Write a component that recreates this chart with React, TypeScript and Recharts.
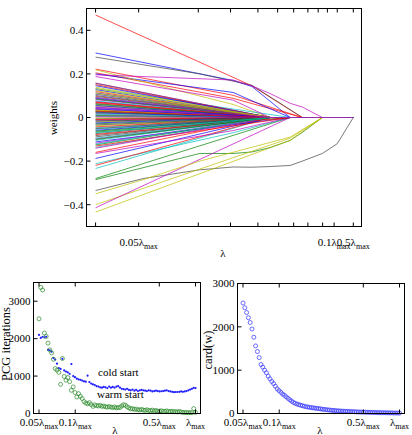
import React from 'react';
import { LineChart, Line, XAxis, YAxis, ScatterChart, Scatter } from 'recharts';

const FONT = '"Liberation Serif", "Times New Roman", serif';
const INK = '#000';
const TICK_LEN = 4;

// MATLAB-style line colour order
const ORDER = ['#0000ff', '#008000', '#ff0000', '#00bfbf', '#bf00bf', '#bfbf00', '#404040'];

// ---------- regularization path (top) ----------
// λ / λmax at the knots of the path
const pathLambda = [0.05, 0.087, 0.168, 0.247, 0.308, 0.38, 0.48, 0.553, 0.698, 0.83, 1.0];

// coefficients that shrink straight to zero: weight at 0.05λmax and the knot where they vanish
const fanStart = [
  0.158, -0.021, 0.064, -0.112, 0.031, 0.097, -0.054, 0.012, 0.139, -0.083,
  0.046, -0.006, 0.119, -0.137, 0.073, -0.038, 0.024, 0.088, -0.067, 0.151,
  0.005, -0.098, 0.057, -0.015, 0.107, -0.126, 0.036, -0.047, 0.082, 0.018,
  -0.074, 0.128, -0.029, 0.068, -0.105, 0.042, -0.002, 0.113, -0.059, 0.027,
  -0.131, 0.093, -0.011, 0.052, -0.089, 0.146, 0.009, -0.043, 0.076, -0.118,
  0.034, 0.101, -0.025, 0.061, -0.078, 0.015, -0.141, 0.123, -0.051, 0.039,
  0.085, -0.009, -0.095, 0.048, 0.133, -0.034, 0.021, -0.063, 0.071, -0.122,
  0.003, 0.109, -0.017, 0.055, -0.101, 0.029, -0.07, 0.091,
];
const fanKnot = [
  5, 5, 5, 6, 5, 5, 5, 4, 5, 5,
  5, 4, 5, 5, 5, 5, 5, 5, 6, 5,
  4, 5, 5, 5, 5, 5, 5, 5, 5, 5,
  5, 5, 5, 5, 5, 5, 5, 5, 5, 4,
  6, 5, 5, 5, 5, 5, 5, 5, 5, 5,
  5, 5, 4, 5, 6, 5, 5, 5, 5, 5,
  5, 5, 5, 5, 5, 5, 5, 5, 5, 5,
  5, 5, 5, 5, 5, 5, 5, 5,
];

const _ = null;
// coefficients with bends of their own (null = no knot there)
const bentPaths: (number | null)[][] = [
  [0.47, _, _, _, 0.145, _, _, 0, 0, 0, 0],
  [0.296, _, _, 0.17, 0.142, _, 0, 0, 0, 0, 0],
  [0.277, _, 0.2, _, 0.148, _, _, 0, 0, 0, 0],
  [0.222, _, _, 0.102, _, _, _, 0, 0, 0, 0],
  [0.205, _, _, 0.088, _, _, _, 0, 0, 0, 0],
  [0.2, _, _, 0.115, _, _, 0, 0, 0, 0, 0],
  [0.219, _, _, 0.06, _, 0, 0, 0, 0, 0, 0],
  [0.157, _, _, _, _, 0, 0, 0, 0, 0, 0],
  [0.133, _, _, _, _, _, 0, 0, 0, 0, 0],
  [0.188, _, _, 0.08, _, 0, 0, 0, 0, 0, 0],
  [-0.335, -0.28, -0.24, -0.227, -0.228, -0.225, -0.22, -0.2, -0.165, -0.12, 0],
  [-0.285, _, -0.165, -0.165, -0.158, -0.138, -0.105, -0.068, 0, 0, 0],
  [-0.28, _, _, _, _, _, 0, 0, 0, 0, 0],
  [-0.434, _, _, _, _, _, -0.105, _, 0, 0, 0],
  [-0.4, _, _, _, _, _, -0.095, _, 0, 0, 0],
  [-0.414, _, _, _, _, _, 0, 0, 0, 0, 0],
  [-0.35, -0.285, -0.2, _, _, _, -0.09, _, 0, 0, 0],
  [-0.234, _, _, _, _, 0, 0, 0, 0, 0, 0],
  [-0.212, _, _, -0.07, _, _, 0, 0, 0, 0, 0],
  [-0.22, _, _, _, _, 0, 0, 0, 0, 0, 0],
  [-0.188, _, _, _, _, 0, 0, 0, 0, 0, 0],
  [-0.165, _, _, -0.06, _, _, 0, 0, 0, 0, 0],
  [-0.16, _, _, _, _, 0, 0, 0, 0, 0, 0],
  [0.196, _, _, 0.172, 0.145, 0.11, 0.065, 0.048, 0, 0, 0],
];
const bentColors = [
  '#ff0000', '#0000ff', '#404040', '#ff0000', '#ff0000', '#0000ff', '#bfbf00', '#008000',
  '#00bfbf', '#bf00bf', '#404040', '#008000', '#008000', '#bfbf00', '#bfbf00', '#bf00bf',
  '#bfbf00', '#00bfbf', '#00bfbf', '#ff0000', '#0000ff', '#bf00bf', '#ff0000', '#bf00bf',
];

const weightTicks = [-0.4, -0.2, 0, 0.2, 0.4];
const pathBottomTicks = [0.05, 0.0825, 0.165, 0.24, 0.33, 0.42, 0.5, 0.59, 0.7, 0.8, 1.0];
const pathTopTicks = [0.05, 0.0825, 0.165, 0.24, 0.33, 0.415, 0.5, 0.59, 0.665, 0.74, 0.83, 1.0];
const pathTickLabels: Record<string, string> = { '0.0825': '0.05', '0.8': '0.1', '1': '0.5' };

// ---------- λ sweep (bottom) ----------
const sweepLambda = Array.from({ length: 88 }, (_v, i) => 0.05 * Math.pow(20, i / 87));

const coldStart = [
  2100, 2020, 2050, 2030, 2050, 1700, 1690, 1650, 1480, 1440,
  1330, 1210, 1190, 1460, 1150, 1120, 1100, 1060, 1320, 1000,
  970, 930, 910, 900, 880, 860, 850, 1010, 840, 800,
  780, 760, 730, 720, 700, 690, 710, 700, 680, 720,
  690, 710, 690, 720, 730, 690, 660, 650, 640, 660,
  630, 620, 640, 610, 630, 600, 620, 630, 620, 610,
  600, 620, 610, 590, 600, 610, 600, 590, 595, 600,
  610, 620, 600, 590, 580, 570, 575, 575, 580, 590,
  580, 590, 600, 620, 640, 660, 685, 680,
];
const warmStart = [
  2530, 3370, 3300, 2150, 2060, 1880, 1700, 1620, 1450, 1200,
  1160, 1100, 780, 1470, 990, 890, 960, 850, 620, 710,
  560, 440, 530, 460, 400, 320, 280, 260, 290, 240,
  190, 230, 210, 200, 220, 190, 200, 180, 170, 185,
  170, 160, 175, 150, 160, 160, 200, 235, 220, 180,
  150, 125, 130, 110, 120, 100, 95, 110, 90, 85,
  100, 80, 75, 90, 70, 80, 65, 60, 75, 55,
  60, 70, 50, 55, 60, 45, 50, 40, 55, 40,
  30, 25, 30, 20, 25, 20, 130, 30,
];
const cardinality = [
  2550, 2440, 2330, 2210, 2100, 1950, 1760, 1560, 1430, 1290,
  1130, 1070, 1000, 940, 860, 800, 740, 690, 630, 570,
  530, 490, 450, 420, 385, 350, 318, 285, 255, 235,
  218, 205, 192, 180, 168, 157, 150, 142, 135, 130,
  124, 118, 112, 108, 100, 95, 90, 85, 80, 76,
  72, 68, 64, 61, 58, 55, 52, 50, 48, 46,
  44, 42, 40, 38, 36, 34, 33, 31, 30, 29,
  28, 26, 25, 24, 23, 21, 20, 19, 18, 17,
  16, 15, 14, 13, 12, 11, 11, 10,
];
const sweepTicks = [0.05, 0.1, 0.5, 1];
const sweepTickLabels: Record<string, string> = { '0.05': '0.05', '0.1': '0.1', '0.5': '0.5', '1': '' };
const countTicks = [0, 1000, 2000, 3000];

// ---------- tables built from the arrays ----------
const fanPaths = fanStart.map((s, i) =>
  pathLambda.map((_l, j) => (j === 0 ? s : j < fanKnot[i] ? null : 0))
);
// bent coefficients first, the fan drawn over them
const allPaths = [...bentPaths, ...fanPaths];
const allColors = [...bentColors, ...fanPaths.map((_p, i) => ORDER[(i + 4) % ORDER.length])];
const pathRows = pathLambda.map((lam, j) => {
  const row: Record<string, number | null> = { lam };
  allPaths.forEach((p, i) => {
    row['w' + i] = p[j];
  });
  return row;
});
const coldRows = sweepLambda.map((lam, i) => ({ lam, v: coldStart[i] }));
const warmRows = sweepLambda.map((lam, i) => ({ lam, v: warmStart[i] }));
const cardRows = sweepLambda.map((lam, i) => ({ lam, v: cardinality[i] }));

const LAMBDA_DOMAIN: [number, number] = [0.045, 1.1];

// ---------- panel layout (page pixels; half-pixel edges keep the 1px box crisp) ----------
type Panel = { left: number; top: number; width: number; height: number; box: [number, number, number, number] };
const Y_AXIS_W = 30;
const TOP_AXIS_H = 5;
const RIGHT_AXIS_W = 5;
const pathPanel: Panel = { left: 0, top: 0, width: 412, height: 262, box: [86.5, 8.5, 361.5, 226.5] };
const pcgPanel: Panel = { left: 0, top: 270, width: 206, height: 165, box: [33.5, 282.5, 200.5, 413.5] };
const cardPanel: Panel = { left: 206, top: 270, width: 206, height: 165, box: [237.5, 283.5, 404.5, 413.5] };

const marginsFor = (p: Panel, yAxisW: number, xAxisH: number) => ({
  left: p.box[0] - p.left - yAxisW,
  top: p.box[1] - p.top - TOP_AXIS_H,
  right: p.left + p.width - p.box[2] - RIGHT_AXIS_W,
  bottom: p.top + p.height - p.box[3] - xAxisH,
});

// ---------- tick renderers (ticks point into the box, MATLAB style) ----------
function LambdaText({ x, y, prefix }: { x: number; y: number; prefix: string }) {
  return (
    <text x={x} y={y} textAnchor="middle" style={{ fontFamily: FONT }} fontSize={11} fill={INK}>
      <tspan>{prefix + 'λ'}</tspan>
      <tspan fontSize={8} dy={3}>max</tspan>
    </text>
  );
}

const FRAME = '#000';
const TICK_STROKE = { stroke: FRAME, strokeWidth: 1 };

const bottomTick = (labels: Record<string, string>, textDy: number) => (p: any) => {
  const lab = labels[String(p.payload.value)];
  return (
    <g>
      <line x1={p.x} y1={p.y} x2={p.x} y2={p.y - TICK_LEN} {...TICK_STROKE} />
      {lab !== undefined && <LambdaText x={p.x} y={p.y + textDy} prefix={lab} />}
    </g>
  );
};
const topTick = (p: any) => <line x1={p.x} y1={p.y} x2={p.x} y2={p.y + TICK_LEN} {...TICK_STROKE} />;
const rightTick = (p: any) => <line x1={p.x - TICK_LEN} y1={p.y} x2={p.x} y2={p.y} {...TICK_STROKE} />;
const leftTick = (fmt: (v: number) => string) => (p: any) => (
  <g>
    <line x1={p.x} y1={p.y} x2={p.x + TICK_LEN} y2={p.y} {...TICK_STROKE} />
    <text x={p.x - 3} y={p.y} dy="0.35em" textAnchor="end" style={{ fontFamily: FONT }} fontSize={11} fill={INK}>
      {fmt(p.payload.value)}
    </text>
  </g>
);
const fmtWeight = (v: number) => (v === 0 ? '0' : (v < 0 ? '\u2212' : '') + Math.abs(v).toFixed(1));
const fmtCount = (v: number) => String(v);

const common = {
  tickLine: false,
  tickSize: 0,
  tickMargin: 0,
  interval: 0 as const,
  axisLine: { stroke: FRAME, strokeWidth: 1 },
};

const openCircle = (color: string) => (p: any) => (
  <circle cx={p.cx} cy={p.cy} r={2} fill="none" stroke={color} strokeWidth={0.7} />
);
const smallDot = (color: string) => (p: any) => <circle cx={p.cx} cy={p.cy} r={1.1} fill={color} />;

function SweepChart({ panel, yMax, children }: { panel: Panel; yMax: number; children: React.ReactNode }) {
  return (
    <div style={{ position: 'absolute', left: panel.left, top: panel.top }}>
      <ScatterChart width={panel.width} height={panel.height} margin={marginsFor(panel, Y_AXIS_W, 20)}>
        <XAxis xAxisId="b" dataKey="lam" type="number" scale="log" domain={LAMBDA_DOMAIN} allowDataOverflow
          ticks={sweepTicks} height={20} tick={bottomTick(sweepTickLabels, 12)} {...common} />
        <XAxis xAxisId="t" dataKey="lam" type="number" scale="log" domain={LAMBDA_DOMAIN} allowDataOverflow
          orientation="top" ticks={sweepTicks} height={TOP_AXIS_H} tick={topTick} {...common} />
        <YAxis yAxisId="l" dataKey="v" type="number" domain={[0, yMax]} ticks={countTicks} width={Y_AXIS_W}
          tick={leftTick(fmtCount)} {...common} />
        <YAxis yAxisId="r" dataKey="v" type="number" domain={[0, yMax]} ticks={countTicks} width={RIGHT_AXIS_W}
          orientation="right" tick={rightTick} {...common} />
        {children}
      </ScatterChart>
    </div>
  );
}

export default function App() {
  const boxes = [pathPanel, pcgPanel, cardPanel];
  return (
    <div style={{ position: 'absolute', left: 0, top: 0, width: 412, height: 435, background: '#fff' }}>
      {/* regularization path */}
      <div style={{ position: 'absolute', left: pathPanel.left, top: pathPanel.top }}>
        <LineChart width={pathPanel.width} height={pathPanel.height} data={pathRows} margin={marginsFor(pathPanel, 40, 30)}>
          <XAxis xAxisId="b" dataKey="lam" type="number" scale="log" domain={LAMBDA_DOMAIN} allowDataOverflow
            ticks={pathBottomTicks} height={30} tick={bottomTick(pathTickLabels, 19)} {...common} />
          <XAxis xAxisId="t" dataKey="lam" type="number" scale="log" domain={LAMBDA_DOMAIN} allowDataOverflow
            orientation="top" ticks={pathTopTicks} height={TOP_AXIS_H} tick={topTick} {...common} />
          <YAxis yAxisId="l" type="number" domain={[-0.5, 0.5]} ticks={weightTicks} width={40}
            tick={leftTick(fmtWeight)} {...common} />
          <YAxis yAxisId="r" type="number" domain={[-0.5, 0.5]} ticks={weightTicks} width={RIGHT_AXIS_W}
            orientation="right" tick={rightTick} {...common} />
          {allPaths.map((_p, i) => (
            <Line key={i} xAxisId="b" yAxisId="l" dataKey={'w' + i} stroke={allColors[i]} strokeWidth={0.7}
              dot={false} activeDot={false} connectNulls isAnimationActive={false} />
          ))}
        </LineChart>
      </div>

      {/* PCG iterations */}
      <SweepChart panel={pcgPanel} yMax={3500}>
        <Scatter xAxisId="b" yAxisId="l" data={coldRows} shape={smallDot('#2020ff')} isAnimationActive={false} />
        <Scatter xAxisId="b" yAxisId="l" data={warmRows} shape={openCircle('#2a8a2a')} isAnimationActive={false} />
      </SweepChart>

      {/* cardinality */}
      <SweepChart panel={cardPanel} yMax={3000}>
        <Scatter xAxisId="b" yAxisId="l" data={cardRows} shape={openCircle('#3030ff')} isAnimationActive={false} />
      </SweepChart>

      {/* axes boxes, titles and annotations */}
      <svg width={412} height={435} style={{ position: 'absolute', left: 0, top: 0, pointerEvents: 'none', fontFamily: FONT }}
        fill={INK}>
        {boxes.map((p, i) => (
          <rect key={i} x={p.box[0]} y={p.box[1]} width={p.box[2] - p.box[0]} height={p.box[3] - p.box[1]}
            fill="none" stroke={FRAME} strokeWidth={1} />
        ))}
        <text x={223} y={257} textAnchor="middle" fontSize={11}>λ</text>
        <text transform="translate(57,118) rotate(-90)" textAnchor="middle" fontSize={11}>weights</text>
        <text x={115} y={434} textAnchor="middle" fontSize={11}>λ</text>
        <text x={320} y={434} textAnchor="middle" fontSize={11}>λ</text>
        <text transform="translate(10,344) rotate(-90)" textAnchor="middle" fontSize={12.5}>PCG iterations</text>
        <text transform="translate(212,350) rotate(-90)" textAnchor="middle" fontSize={12.5}>card(w)</text>
        <text x={98} y={376} fontSize={11}>cold start</text>
        <text x={97} y={398} fontSize={11}>warm start</text>
      </svg>
    </div>
  );
}
